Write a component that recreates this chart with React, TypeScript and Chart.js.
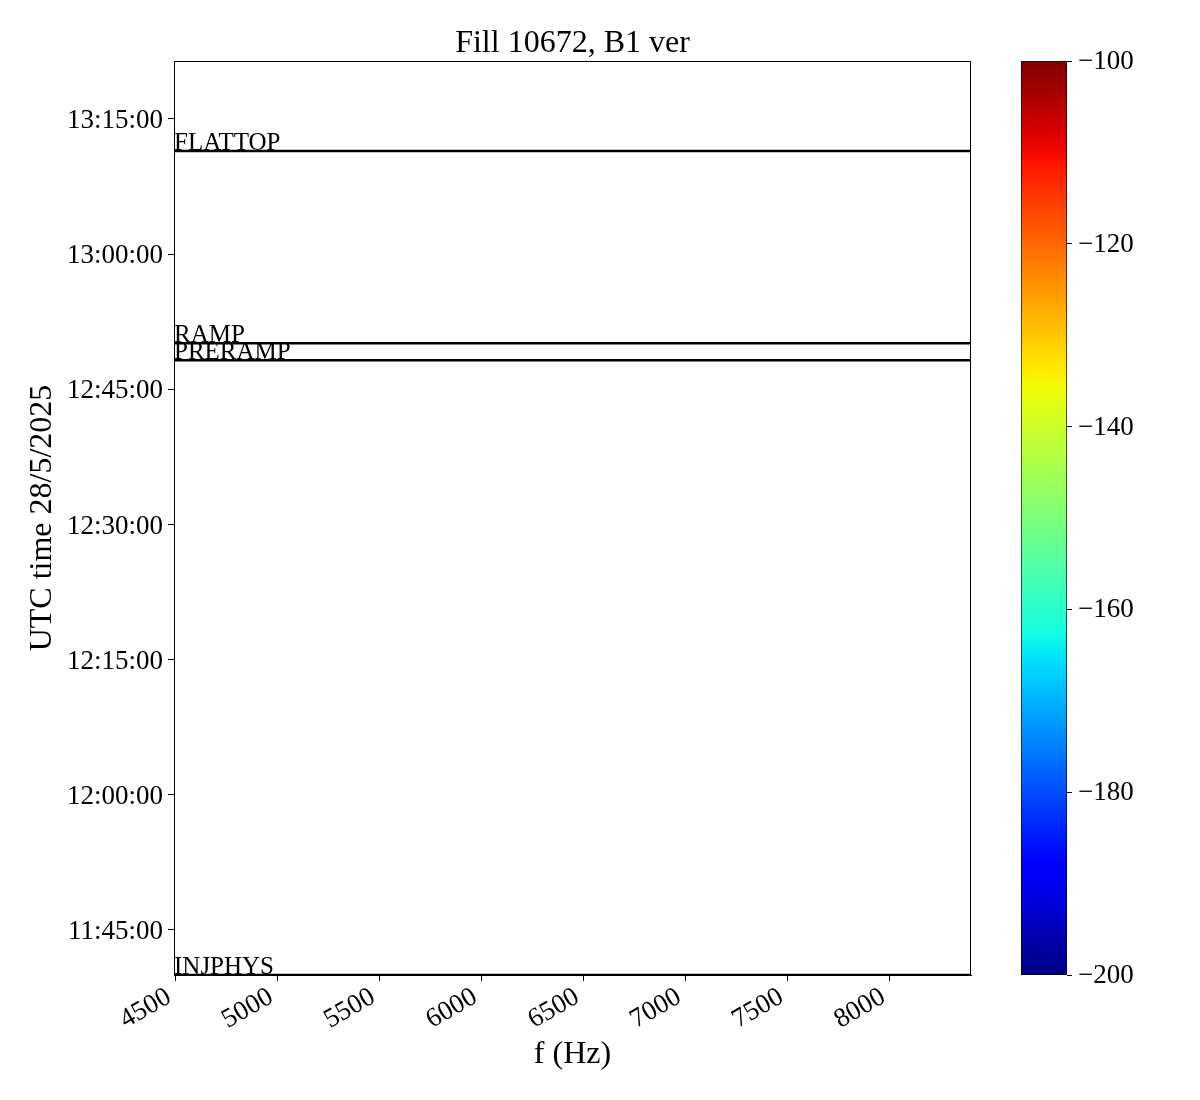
import React, { useEffect, useRef } from 'react';
import { Chart, registerables } from 'chart.js';

Chart.register(...registerables);

const TITLE = 'Fill 10672, B1 ver';
const X_LABEL = 'f (Hz)';
const Y_LABEL = 'UTC time 28/5/2025';

const FREQ_RANGE = [4495, 8400];
const FREQ_TICKS = [4500, 5000, 5500, 6000, 6500, 7000, 7500, 8000];

const TIME_RANGE = ['11:40:00', '13:21:26'];
const TIME_TICKS = ['11:45:00', '12:00:00', '12:15:00', '12:30:00', '12:45:00', '13:00:00', '13:15:00'];

const EVENT_NAMES = ['INJPHYS', 'PRERAMP', 'RAMP', 'FLATTOP'];
const EVENT_TIMES = ['11:40:00', '12:48:13', '12:50:07', '13:11:27'];

const CBAR_RANGE = [-200, -100];
const CBAR_TICKS = [-200, -180, -160, -140, -120, -100];

const FONT = "'Liberation Serif', 'DejaVu Serif', serif";

const toSec = (s: string) => {
  const [h, m, sec] = s.split(':').map(Number);
  return h * 3600 + m * 60 + sec;
};
const fmt = (v: number) => {
  const h = Math.floor(v / 3600);
  const m = Math.floor((v % 3600) / 60);
  const s = Math.round(v % 60);
  const p = (n: number) => String(n).padStart(2, '0');
  return `${p(h)}:${p(m)}:${p(s)}`;
};

// jet colormap segment data
const JET = {
  r: [[0, 0], [0.35, 0], [0.66, 1], [0.89, 1], [1, 0.5]],
  g: [[0, 0], [0.125, 0], [0.375, 1], [0.64, 1], [0.91, 0], [1, 0]],
  b: [[0, 0.5], [0.11, 1], [0.34, 1], [0.65, 0], [1, 0]],
};
const interp = (pts: number[][], t: number) => {
  for (let i = 1; i < pts.length; i++) {
    if (t <= pts[i][0]) {
      const [x0, y0] = pts[i - 1];
      const [x1, y1] = pts[i];
      return y0 + ((t - x0) / (x1 - x0)) * (y1 - y0);
    }
  }
  return pts[pts.length - 1][1];
};
const jet = (t: number) =>
  `rgb(${Math.round(interp(JET.r, t) * 255)},${Math.round(interp(JET.g, t) * 255)},${Math.round(interp(JET.b, t) * 255)})`;

export default function App() {
  const mainRef = useRef<HTMLCanvasElement>(null);
  const cbRef = useRef<HTMLCanvasElement>(null);

  useEffect(() => {
    Chart.defaults.font.family = FONT;
    Chart.defaults.color = '#000';

    const eventPlugin = {
      id: 'events',
      afterDatasetsDraw(chart: any) {
        const { ctx, chartArea, scales } = chart;
        ctx.save();
        ctx.font = `25px ${FONT}`;
        ctx.fillStyle = '#000';
        ctx.textAlign = 'left';
        ctx.textBaseline = 'alphabetic';
        EVENT_NAMES.forEach((n, i) => {
          const y = scales.y.getPixelForValue(toSec(EVENT_TIMES[i]));
          ctx.fillText(n, chartArea.left, y - 1);
        });
        ctx.restore();
      },
    };
    const framePlugin = {
      id: 'frame',
      afterDraw(chart: any) {
        const { ctx, chartArea: ca } = chart;
        ctx.save();
        ctx.strokeStyle = '#000';
        ctx.lineWidth = 1;
        ctx.strokeRect(ca.left + 0.5, ca.top + 0.5, ca.right - ca.left - 1, ca.bottom - ca.top - 1);
        ctx.font = `32px ${FONT}`;
        ctx.fillStyle = '#000';
        ctx.textAlign = 'center';
        ctx.textBaseline = 'middle';
        ctx.fillText(TITLE, (ca.left + ca.right) / 2, 44);
        ctx.restore();
      },
    };

    const main = new Chart(mainRef.current!, {
      type: 'line',
      data: {
        datasets: EVENT_NAMES.map((n, i) => ({
          label: n,
          data: [
            { x: FREQ_RANGE[0], y: toSec(EVENT_TIMES[i]) },
            { x: FREQ_RANGE[1], y: toSec(EVENT_TIMES[i]) },
          ],
          borderColor: '#000',
          borderWidth: 2.5,
          pointRadius: 0,
        })),
      },
      options: {
        responsive: false,
        animation: false,
        layout: { padding: { top: 61, right: 229, left: 0, bottom: 0 } },
        plugins: { legend: { display: false }, tooltip: { enabled: false }, title: { display: false } },
        scales: {
          x: {
            type: 'linear',
            min: FREQ_RANGE[0],
            max: FREQ_RANGE[1],
            afterBuildTicks: (s: any) => {
              s.ticks = FREQ_TICKS.map((v) => ({ value: v }));
            },
            afterFit: (s: any) => {
              s.height = 125;
            },
            ticks: {
              autoSkip: false,
              minRotation: 30,
              maxRotation: 30,
              font: { size: 27, family: FONT },
              color: '#000',
              padding: 0,
              labelOffset: -6,
              callback: (v: any) => String(v),
            },
            grid: { drawOnChartArea: false, drawTicks: true, tickLength: 6, color: '#000' },
            border: { display: true, color: '#000' },
            title: {
              display: true,
              text: X_LABEL,
              font: { size: 32, family: FONT },
              color: '#000',
              padding: { top: 0, bottom: 26 },
            },
          },
          y: {
            type: 'linear',
            min: toSec(TIME_RANGE[0]),
            max: toSec(TIME_RANGE[1]),
            afterBuildTicks: (s: any) => {
              s.ticks = TIME_TICKS.map((t) => ({ value: toSec(t) }));
            },
            afterFit: (s: any) => {
              s.width = 174;
            },
            ticks: {
              autoSkip: false,
              font: { size: 27, family: FONT },
              color: '#000',
              padding: 5,
              labelOffset: 2,
              callback: (v: any) => fmt(Number(v)),
            },
            grid: { drawOnChartArea: false, drawTicks: true, tickLength: 6, color: '#000' },
            border: { display: true, color: '#000' },
            title: {
              display: true,
              text: Y_LABEL,
              font: { size: 32, family: FONT },
              color: '#000',
              padding: { top: 23, bottom: 0 },
            },
          },
        },
      },
      plugins: [eventPlugin, framePlugin],
    } as any);

    const cb = new Chart(cbRef.current!, {
      type: 'bar',
      data: {
        labels: [''],
        datasets: [
          {
            data: [[CBAR_RANGE[0], CBAR_RANGE[1]]],
            backgroundColor: (c: any) => {
              const ca = c.chart.chartArea;
              if (!ca) return '#00f';
              const g = c.chart.ctx.createLinearGradient(0, ca.bottom, 0, ca.top);
              for (let i = 0; i <= 64; i++) g.addColorStop(i / 64, jet(i / 64));
              return g;
            },
            borderColor: '#000',
            borderWidth: 1,
            borderSkipped: false,
            barPercentage: 1,
            categoryPercentage: 1,
          },
        ],
      },
      options: {
        responsive: false,
        animation: false,
        layout: { padding: { top: 61, left: 21, bottom: 125, right: 0 } },
        plugins: { legend: { display: false }, tooltip: { enabled: false } },
        scales: {
          x: { display: false },
          y: {
            position: 'right',
            min: CBAR_RANGE[0],
            max: CBAR_RANGE[1],
            afterBuildTicks: (s: any) => {
              s.ticks = CBAR_TICKS.map((v) => ({ value: v }));
            },
            afterFit: (s: any) => {
              s.width = 133;
            },
            ticks: {
              font: { size: 27, family: FONT },
              color: '#000',
              padding: 6,
              labelOffset: 1,
              callback: (v: any) => String(v).replace('-', '\u2212'),
            },
            grid: { drawOnChartArea: false, drawTicks: true, tickLength: 5, color: '#000' },
            border: { display: false },
          },
        },
      },
    } as any);

    return () => {
      main.destroy();
      cb.destroy();
    };
  }, []);

  return (
    <div style={{ position: 'absolute', left: 0, top: 0, width: 1200, height: 1100, background: '#fff' }}>
      <canvas ref={mainRef} width={1200} height={1100} style={{ position: 'absolute', left: 0, top: 0 }} />
      <canvas ref={cbRef} width={200} height={1100} style={{ position: 'absolute', left: 1000, top: 0 }} />
    </div>
  );
}
